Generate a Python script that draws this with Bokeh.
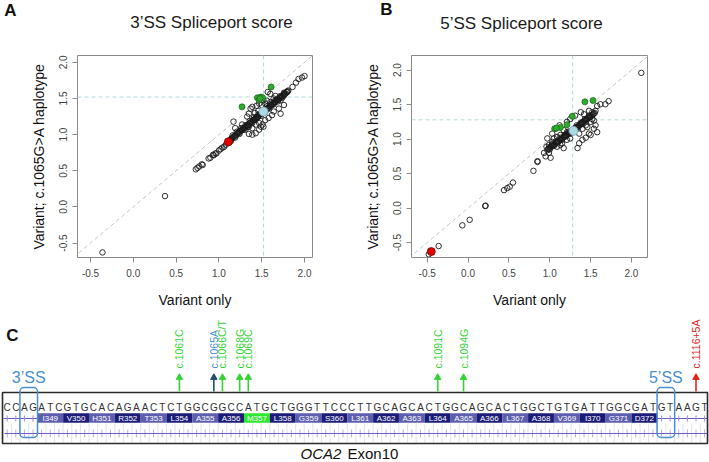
from math import pi

from bokeh.core.properties import value
from bokeh.embed import file_html
from bokeh.layouts import column, row
from bokeh.models import (BoxAnnotation, FixedTicker, NumeralTickFormatter,
                          Range1d, Slope, Span)
from bokeh.plotting import figure
from bokeh.resources import INLINE

FONT = "Liberation Sans"
TICKS = [-0.5, 0.0, 0.5, 1.0, 1.5, 2.0]
TITLES = ["3\u2019SS Spliceport score", "5\u2019SS Spliceport score"]
PANEL_LETTERS = ["A", "B", "C"]

# ---------------- Panel A: 3'SS Spliceport score ----------------
A_OPEN = [
    (-0.36, -0.63), (0.37, 0.15),
    (0.73, 0.52), (0.75, 0.54), (0.77, 0.56), (0.80, 0.59), (0.81, 0.58),
    (0.88, 0.67), (0.90, 0.68), (0.93, 0.72), (0.94, 0.715), (0.96, 0.74), (0.97, 0.74),
    (1.00, 0.78), (1.02, 0.80), (1.04, 0.82), (1.06, 0.83), (1.08, 0.86),
    (1.17, 1.18), (1.19, 1.09), (1.27, 1.14), (1.27, 1.07), (1.31, 1.07), (1.33, 1.25),
    (1.35, 1.29), (1.37, 1.36), (1.39, 1.385), (1.35, 1.11), (1.39, 1.09), (1.43, 1.14),
    (1.47, 1.16), (1.49, 1.11), (1.41, 1.20), (1.45, 1.24), (1.54, 1.20), (1.58, 1.23),
    (1.62, 1.27), (1.64, 1.32), (1.60, 1.45), (1.64, 1.50), (1.66, 1.535), (1.57, 1.59),
    (1.60, 1.565), (1.54, 1.43), (1.52, 1.475), (1.50, 1.41), (1.72, 1.475), (1.76, 1.54),
    (1.80, 1.59), (1.86, 1.66), (1.90, 1.72), (1.93, 1.77), (1.97, 1.79), (2.00, 1.81),
    (1.70, 1.36), (1.76, 1.41), (1.72, 1.29), (1.52, 1.11), (1.47, 1.07), (1.39, 1.00),
    (1.43, 1.02), (1.35, 1.01), (1.51, 1.14), (1.42, 1.30), (1.46, 1.33), (1.47, 1.43),
    (1.44, 1.40), (1.56, 1.47),
    (1.10, 0.89), (1.11, 0.91), (1.12, 0.92), (1.13, 0.92), (1.14, 0.94), (1.15, 0.95),
    (1.16, 0.95), (1.17, 0.97), (1.18, 0.98), (1.19, 0.99), (1.20, 0.99), (1.21, 1.01),
    (1.22, 1.02), (1.23, 1.02), (1.24, 1.04), (1.25, 1.05), (1.26, 1.06), (1.27, 1.06),
    (1.28, 1.08), (1.29, 1.09), (1.30, 1.10), (1.31, 1.10), (1.32, 1.12), (1.33, 1.13),
    (1.34, 1.13), (1.35, 1.15), (1.36, 1.16), (1.37, 1.17), (1.38, 1.17), (1.39, 1.19),
    (1.40, 1.20), (1.41, 1.21), (1.42, 1.21), (1.43, 1.23), (1.44, 1.24), (1.45, 1.25),
    (1.46, 1.25), (1.47, 1.27), (1.48, 1.28), (1.49, 1.29), (1.50, 1.29), (1.51, 1.31),
    (1.53, 1.33), (1.54, 1.33), (1.55, 1.35), (1.56, 1.36), (1.57, 1.37), (1.58, 1.37),
    (1.59, 1.39), (1.60, 1.40), (1.61, 1.41), (1.62, 1.41), (1.63, 1.43), (1.64, 1.44),
    (1.65, 1.45), (1.66, 1.45), (1.67, 1.47), (1.68, 1.48), (1.69, 1.49), (1.70, 1.49),
    (1.71, 1.51), (1.72, 1.52), (1.73, 1.53), (1.74, 1.53), (1.75, 1.55), (1.76, 1.56),
    (1.77, 1.57), (1.78, 1.57), (1.79, 1.59), (1.80, 1.60), (1.81, 1.61),
    (1.14, 0.91), (1.19, 0.96), (1.24, 1.01), (1.29, 1.07), (1.34, 1.11), (1.39, 1.16),
    (1.44, 1.22), (1.49, 1.26), (1.54, 1.31), (1.59, 1.36), (1.64, 1.42), (1.69, 1.46),
    (1.74, 1.51), (1.16, 0.99), (1.21, 1.04), (1.26, 1.09), (1.31, 1.13), (1.36, 1.19),
    (1.41, 1.24), (1.46, 1.28), (1.51, 1.33), (1.56, 1.39), (1.61, 1.43), (1.66, 1.48),
    (1.71, 1.53), (1.76, 1.58),
]
A_GREEN = [(1.61, 1.66), (1.27, 1.385), (1.45, 1.51), (1.49, 1.52), (1.51, 1.51),
           (1.47, 1.48), (1.48, 1.50)]
A_REF = (1.52, 1.32)      # c.1065G>A alone
A_RED = (1.11, 0.90)
A_WT = 1.52

# ---------------- Panel B: 5'SS Spliceport score ----------------
B_OPEN = [
    (-0.48, -0.67), (-0.36, -0.55), (-0.07, -0.25), (0.02, -0.17), (0.21, 0.03), (0.215, 0.035),
    (0.44, 0.26), (0.48, 0.29), (0.51, 0.31), (0.55, 0.37), (0.80, 0.54), (0.85, 0.67),
    (0.85, 0.68), (0.95, 0.75), (0.99, 0.80), (0.93, 0.80), (1.01, 0.73), (0.96, 0.89),
    (0.99, 0.915), (1.03, 0.96), (1.05, 1.01), (1.09, 1.03), (1.13, 1.06), (1.09, 0.89),
    (1.13, 0.915), (1.17, 0.87), (1.15, 0.94), (1.21, 0.99), (1.25, 1.01), (1.36, 1.08),
    (1.40, 1.15), (1.44, 1.20), (1.50, 1.25), (1.54, 1.27), (1.46, 1.175), (1.52, 1.29),
    (1.34, 0.87), (1.36, 0.94), (1.40, 0.99), (1.44, 1.02), (1.48, 1.08), (1.21, 1.25),
    (1.25, 1.29), (1.31, 1.34), (1.38, 1.39), (1.42, 1.36), (1.48, 1.41), (1.52, 1.39),
    (1.58, 1.48), (1.62, 1.505), (1.68, 1.505), (1.72, 1.55), (1.56, 1.41), (1.03, 1.08),
    (0.97, 1.01), (1.07, 1.15), (1.54, 1.15), (1.58, 1.10), (1.50, 1.06), (1.56, 1.20),
    (1.17, 1.13), (1.21, 1.10), (2.12, 1.96), (1.12, 1.20),
    (0.97, 0.84), (0.98, 0.86), (0.99, 0.86), (1.00, 0.88), (1.01, 0.88), (1.02, 0.90),
    (1.03, 0.90), (1.04, 0.91), (1.05, 0.92), (1.06, 0.93), (1.07, 0.94), (1.08, 0.95),
    (1.09, 0.96), (1.10, 0.97), (1.11, 0.97), (1.12, 0.99), (1.13, 0.99), (1.14, 1.00),
    (1.15, 1.01), (1.16, 1.02), (1.17, 1.03), (1.18, 1.04), (1.19, 1.05), (1.20, 1.06),
    (1.21, 1.06), (1.22, 1.08), (1.23, 1.08), (1.24, 1.09), (1.25, 1.10), (1.26, 1.11),
    (1.27, 1.12), (1.28, 1.13), (1.30, 1.15), (1.31, 1.16), (1.32, 1.17), (1.33, 1.17),
    (1.34, 1.18), (1.35, 1.19), (1.36, 1.20), (1.37, 1.21), (1.38, 1.22), (1.39, 1.23),
    (1.40, 1.24), (1.41, 1.25), (1.42, 1.26), (1.43, 1.27), (1.44, 1.28), (1.45, 1.29),
    (1.46, 1.30), (1.47, 1.31), (1.48, 1.32), (1.49, 1.32), (1.50, 1.33), (1.51, 1.34),
    (1.52, 1.35), (1.53, 1.36), (1.54, 1.37), (1.55, 1.38),
    (1.00, 0.85), (1.05, 0.90), (1.10, 0.95), (1.15, 0.99), (1.20, 1.04), (1.25, 1.08),
    (1.35, 1.17), (1.40, 1.22), (1.45, 1.27), (1.03, 0.93), (1.08, 0.97), (1.13, 1.02),
    (1.18, 1.06), (1.23, 1.11), (1.33, 1.20), (1.38, 1.24), (1.43, 1.29), (1.48, 1.34),
]
B_GREEN = [(1.53, 1.56), (1.43, 1.54), (1.275, 1.33), (1.21, 1.21), (1.13, 1.17),
           (1.06, 1.15), (1.08, 1.16)]
B_REF = (1.29, 1.12)
B_RED = (-0.45, -0.63)
B_WT = 1.28

# ---------------- Panel C: OCA2 exon 10 ----------------
INTRON_5 = "CCAG"
EXON = "ATCGTGCACAGAACTCTGGCGGCCATGCTGGGTTCCCTTGCAGCACTGGCAGCACTGGCTGTGATTGGCGAT"
INTRON_3 = "GTAAGT"
EXON_START_C = 1045
CODONS = ["I349", "V350", "H351", "R352", "T353", "L354", "A355", "A356", "M357", "L358",
          "G359", "S360", "L361", "A362", "A363", "L364", "A365", "A366", "L367", "A368",
          "V369", "I370", "G371", "D372"]
HIGHLIGHT_CODON = "M357"
VAR_LABELS = ["c.1061C", "c.1065A", "c.1066C/T", "c.1068G", "c.1069C", "c.1091C",
              "c.1094G", "c.1116+5A"]
VAR_CPOS = [1061, 1065, 1066, 1068, 1069, 1091, 1094, 1116]
VAR_INTRON_OFFSET = [0, 0, 0, 0, 0, 0, 0, 5]
VAR_KIND = ["green", "blue", "green", "green", "green", "green", "green", "red"]

GREEN_TXT = "#35d435"
KIND_TEXT = {"green": GREEN_TXT, "blue": "#4a90d0", "red": "#e3261c"}
KIND_ARROW = {"green": GREEN_TXT, "blue": "#1f4f70", "red": "#e3261c"}
SS_BLUE = "#4a8fd0"


def split(pairs):
    return [p[0] for p in pairs], [p[1] for p in pairs]


def blank_canvas(w, h):
    p = figure(width=w, height=h, x_range=Range1d(0, w), y_range=Range1d(0, h),
               output_backend="svg", toolbar_location=None, min_border=0,
               x_axis_location=None, y_axis_location=None)
    p.grid.visible = False
    p.outline_line_color = None
    return p


def scatter_panel(w, h, left, right, top, bottom, xr, yr, open_pts, green_pts, ref_pt,
                  red_pt, wt):
    p = figure(width=w, height=h, x_range=Range1d(*xr), y_range=Range1d(*yr),
               output_backend="svg", toolbar_location=None,
               min_border_left=left, min_border_right=right,
               min_border_top=top, min_border_bottom=bottom)
    p.grid.visible = False
    p.outline_line_color = "#8a8a8a"
    p.outline_line_width = 1
    for ax in (p.xaxis[0], p.yaxis[0]):
        ax.ticker = FixedTicker(ticks=TICKS)
        ax.formatter = NumeralTickFormatter(format="0.0")
        ax.axis_line_color = None
        ax.major_tick_line_color = "#8a8a8a"
        ax.major_tick_out = 5
        ax.major_tick_in = 0
        ax.minor_tick_line_color = None
        ax.major_label_text_font = FONT
        ax.major_label_text_font_size = "10px"
        ax.major_label_text_color = "#444444"
        ax.axis_label_text_font = FONT
        ax.axis_label_text_font_size = "14px"
        ax.axis_label_text_font_style = "normal"
        ax.axis_label_text_color = "#111111"
    p.xaxis.axis_label = "Variant only"
    p.yaxis.axis_label = "Variant; c.1065G>A haplotype"
    p.yaxis.major_label_orientation = "vertical"
    p.xaxis.major_label_standoff = 6
    p.xaxis.axis_label_standoff = 12
    p.yaxis.major_label_standoff = 5
    p.yaxis.axis_label_standoff = 10

    p.add_layout(Slope(gradient=1, y_intercept=0, line_color="#c6c6c6", line_width=1,
                       line_dash="4 3", level="underlay"))
    p.add_layout(Span(location=wt, dimension="width", line_color="#b2dada", line_width=1,
                      line_dash="4 3", level="underlay"))
    p.add_layout(Span(location=wt, dimension="height", line_color="#b2dada", line_width=1,
                      line_dash="4 3", level="underlay"))

    ox, oy = split(open_pts)
    p.scatter(ox, oy, size=5.5, fill_color=None, line_color="#1a1a1a", line_width=0.9)
    gx, gy = split(green_pts)
    p.scatter(gx, gy, size=6, fill_color="#2eaa2e", line_color="#1b6e1b", line_width=0.8)
    p.scatter([red_pt[0]], [red_pt[1]], size=8, fill_color="#e00000", line_color="#7a0000",
              line_width=0.8)
    p.scatter([ref_pt[0]], [ref_pt[1]], size=9, fill_color="#add8e6", line_color="#7fa8b8",
              line_width=0.8)
    return p


# ---------------- header strip with panel letters and titles (canvas y 0..45) ----------------
HEAD_H = 45
head = blank_canvas(709, HEAD_H)
head.text([10, 386], [HEAD_H - 10, HEAD_H - 9], text=PANEL_LETTERS[:2], text_font=value(FONT),
          text_font_size="17px", text_font_style="bold", text_color="#111111",
          text_align="center", text_baseline="middle")
head.text([211, 521], [HEAD_H - 22, HEAD_H - 23], text=TITLES, text_font=value(FONT),
          text_font_size="17px", text_color="#1a1a1a", text_align="center",
          text_baseline="middle")

# ---------------- scatter panels (canvas y 45..312) ----------------
pa = scatter_panel(354, 312 - HEAD_H, 77, 42, 51 - HEAD_H, 55, (-0.652, 2.093), (-0.70, 2.095),
                   A_OPEN, A_GREEN, A_REF, A_RED, A_WT)
pb = scatter_panel(355, 312 - HEAD_H, 57, 62, 55 - HEAD_H, 50, (-0.692, 2.196), (-0.716, 2.212),
                   B_OPEN, B_GREEN, B_REF, B_RED, B_WT)

# ---------------- Panel C drawing (canvas y 312..462) ----------------
pc = blank_canvas(709, 150)

X0, STEP = 6.7, 8.61


def X(i):
    return X0 + STEP * i


def Y(py):
    return 462 - py


seq = INTRON_5 + EXON + INTRON_3
n = len(seq)
n5 = len(INTRON_5)
n_exon = len(EXON)

# faint letter-boundary guides in the lower ruler
pc.segment([X(i) + STEP / 2 for i in range(-1, n)], [Y(423)] * (n + 1),
           [X(i) + STEP / 2 for i in range(-1, n)], [Y(442)] * (n + 1),
           line_color="#e2e2ec", line_width=1)
# ruler line with ticks
pc.segment([X(i) for i in range(n)], [Y(429)] * n, [X(i) for i in range(n)], [Y(437)] * n,
           line_color="#b7afe0", line_width=1)
pc.segment([X(-0.3)], [Y(433)], [X(n - 0.7)], [Y(433)], line_color="#6a5cc8", line_width=1.2)

# intron ruler inside the codon row
intr_idx = list(range(0, n5)) + list(range(n5 + n_exon, n))
pc.segment([X(-0.4), X(n5 + n_exon - 0.5)], [Y(418)] * 2, [X(n5 - 0.5), X(n - 0.6)], [Y(418)] * 2,
           line_color="#6a5cc8", line_width=1.2)
pc.segment([X(i) for i in intr_idx], [Y(415)] * len(intr_idx), [X(i) for i in intr_idx],
           [Y(421)] * len(intr_idx), line_color="#9a90d8", line_width=1)

# codon blocks
cx, cfill = [], []
for k, name in enumerate(CODONS):
    cx.append(X(n5 + 3 * k + 1))
    num = int(name[1:])
    if name == HIGHLIGHT_CODON:
        cfill.append("#2ee82e")
    elif num % 2 == 0:
        cfill.append("#1c1c78")
    else:
        cfill.append("#5e5eae")
pc.rect(cx, [Y(417.5)] * len(cx), width=3 * STEP, height=9.5, fill_color=cfill,
        line_color=None)
pc.text(cx, [Y(417.5)] * len(cx), text=CODONS, text_font=value(FONT), text_font_size="8px",
        text_color="white", text_align="center", text_baseline="middle")

# nucleotide letters
pc.text([X(i) for i in range(n)], [Y(407)] * n, text=list(seq), text_font=value(FONT),
        text_font_size="10px", text_color="#333333", text_align="center",
        text_baseline="middle")

# outer sequence frame
pc.quad(left=[2], right=[707], top=[Y(392)], bottom=[Y(443)], fill_color=None,
        line_color="#2b2b2b", line_width=1.6)

# splice-site boxes and labels
for i0, lab in ((n5 - 2, "3\u2019SS"), (n5 + n_exon, "5\u2019SS")):
    pc.add_layout(BoxAnnotation(left=X(i0) - 4.5, right=X(i0 + 1) + 4.5, top=Y(387),
                                bottom=Y(437), fill_alpha=0, line_alpha=1.0,
                                line_color=SS_BLUE, line_width=1.5, border_radius=4,
                                level="overlay"))
    pc.text([(X(i0) + X(i0 + 1)) / 2], [Y(377)], text=[lab], text_font=value(FONT),
            text_font_size="16px", text_color=SS_BLUE, text_align="center",
            text_baseline="middle")

# variant arrows and labels
vx = [X(n5 + (c - EXON_START_C) + off) for c, off in zip(VAR_CPOS, VAR_INTRON_OFFSET)]
acol = [KIND_ARROW[k] for k in VAR_KIND]
tcol = [KIND_TEXT[k] for k in VAR_KIND]
pc.segment(vx, [Y(391)] * len(vx), vx, [Y(378)] * len(vx), line_color=acol, line_width=1.6)
pc.scatter(vx, [Y(377)] * len(vx), marker="triangle", size=6.5, fill_color=acol,
           line_color=acol)
pc.text(vx, [Y(368)] * len(vx), text=VAR_LABELS, angle=pi / 2, text_font=value(FONT),
        text_font_size="10.5px", text_color=tcol, text_align="left", text_baseline="middle")

# panel letter and exon caption
pc.text([12], [Y(335)], text=[PANEL_LETTERS[2]], text_font=value(FONT), text_font_size="17px",
        text_font_style="bold", text_color="#111111", text_align="center",
        text_baseline="middle")
pc.text([300], [Y(453)], text=["OCA2"], text_font=value(FONT), text_font_size="15px",
        text_font_style="italic", text_color="#111111", text_align="left",
        text_baseline="middle")
pc.text([347], [Y(453)], text=["Exon10"], text_font=value(FONT), text_font_size="15px",
        text_color="#111111", text_align="left", text_baseline="middle")

layout = column(head, row(pa, pb), pc)
open("out.html", "w").write(file_html(layout, INLINE))
